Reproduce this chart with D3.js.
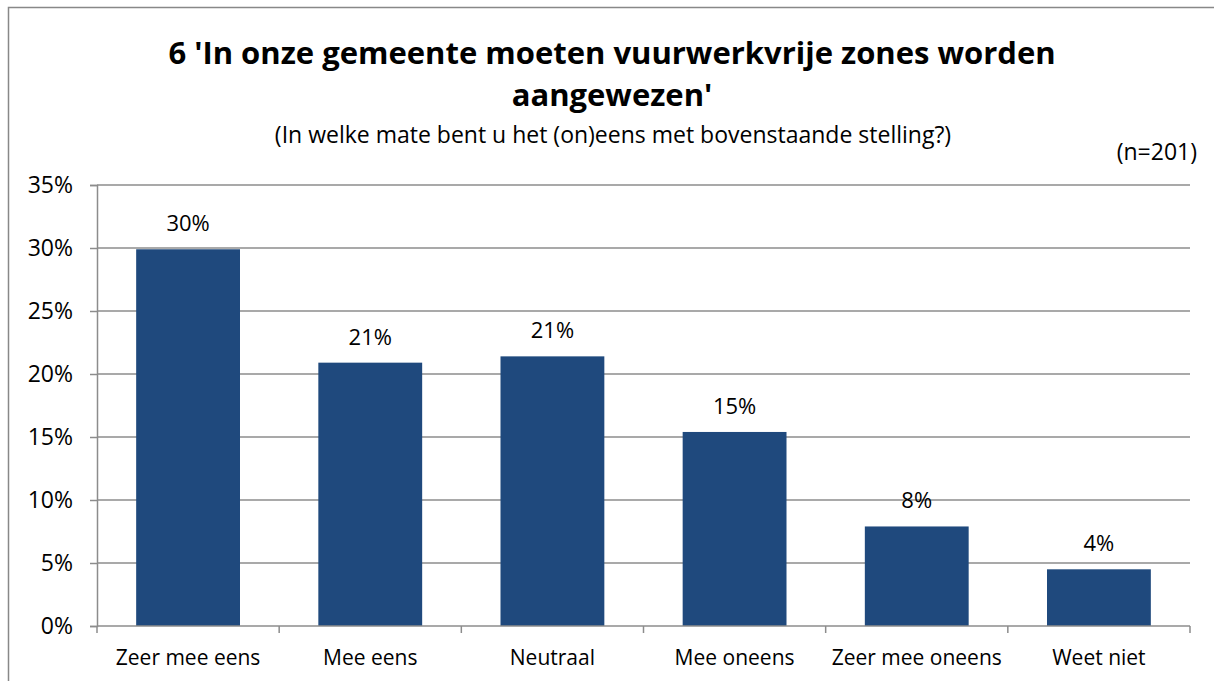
<!DOCTYPE html>
<html>
<head>
<meta charset="utf-8">
<script src="https://cdn.jsdelivr.net/npm/d3@7"></script>
<style>
body{margin:0;background:#fff}
svg text{font-family:"Open Sans",Lato,sans-serif;fill:#000}
</style>
</head>
<body>
<div id="chart"></div>
<script>
var width = 1214
var height = 681
var categories = ["Zeer mee eens","Mee eens","Neutraal","Mee oneens","Zeer mee oneens","Weet niet"]
var values = [29.9,20.9,21.4,15.4,7.9,4.5]
var valueLabels = ["30%","21%","21%","15%","8%","4%"]
var yTicks = [0,5,10,15,20,25,30,35]
var titleLines = ["6 'In onze gemeente moeten vuurwerkvrije zones worden","aangewezen'"]
var subtitle = "(In welke mate bent u het (on)eens met bovenstaande stelling?)"
var nLabel = "(n=201)"

var barColor = "#1F497D"
var gridColor = "#8c8c8c"
var margin = {left:97, right:24, top:185, bottom:55}

var svg = d3.select("#chart").append("svg")
	.attr("width",width)
	.attr("height",height)

// outer frame
svg.append("rect")
	.attr("x",8.5).attr("y",7.5)
	.attr("width",width).attr("height",height)
	.attr("fill","none").attr("stroke","#888").attr("stroke-width",1.5)

var x = d3.scaleBand().domain(categories)
	.range([margin.left, width-margin.right])
	.paddingInner(0.43).paddingOuter(0.215)
var xb = d3.scaleBand().domain(categories).range([margin.left, width-margin.right])
var y = d3.scaleLinear().domain([0,35]).range([height-margin.bottom, margin.top])

// gridlines
svg.append("g").selectAll("line")
	.data(yTicks.slice(1))
	.enter().append("line")
	.attr("x1",margin.left).attr("x2",width-margin.right)
	.attr("y1",function(d){return y(d)}).attr("y2",function(d){return y(d)})
	.attr("stroke",gridColor).attr("stroke-width",1.5)

// bars
svg.append("g").selectAll("rect")
	.data(values)
	.enter().append("rect")
	.attr("x",function(d,i){return x(categories[i])})
	.attr("width",x.bandwidth())
	.attr("y",function(d){return y(d)})
	.attr("height",function(d){return y(0)-y(d)})
	.attr("fill",barColor)

// value labels
svg.append("g").selectAll("text")
	.data(values)
	.enter().append("text")
	.attr("x",function(d,i){return x(categories[i])+x.bandwidth()/2})
	.attr("y",function(d){return y(d)-18})
	.attr("text-anchor","middle")
	.style("font-size","22px")
	.text(function(d,i){return valueLabels[i]})

// y axis
var yAxis = d3.axisLeft(y).tickValues(yTicks).tickSize(7).tickPadding(17)
	.tickFormat(function(d){return d+"%"})
var gy = svg.append("g")
	.attr("transform","translate("+margin.left+",0)")
	.call(yAxis)
gy.select(".domain").attr("stroke",gridColor).attr("stroke-width",1.5)
gy.selectAll(".tick line").attr("stroke",gridColor).attr("stroke-width",1.5)
gy.selectAll(".tick text").style("font-size","23px").attr("fill","#000")

// x axis
var gx = svg.append("g")
	.attr("transform","translate(0,"+y(0)+")")
gx.append("line")
	.attr("x1",margin.left).attr("x2",width-margin.right)
	.attr("stroke",gridColor).attr("stroke-width",1.5)
gx.selectAll(".xtick")
	.data(categories.concat([null]))
	.enter().append("line")
	.attr("class","xtick")
	.attr("x1",function(d,i){return margin.left+i*xb.bandwidth()})
	.attr("x2",function(d,i){return margin.left+i*xb.bandwidth()})
	.attr("y1",0).attr("y2",7)
	.attr("stroke",gridColor).attr("stroke-width",1.5)
gx.selectAll(".xlabel")
	.data(categories)
	.enter().append("text")
	.attr("class","xlabel")
	.attr("x",function(d){return xb(d)+xb.bandwidth()/2})
	.attr("y",39)
	.attr("text-anchor","middle")
	.style("font-size","21px")
	.text(function(d){return d})

// titles
svg.selectAll(".title")
	.data(titleLines)
	.enter().append("text")
	.attr("class","title")
	.attr("x",612)
	.attr("y",function(d,i){return 64+i*42})
	.attr("text-anchor","middle")
	.style("font-size","31px").style("font-weight","bold")
	.text(function(d){return d})
svg.append("text")
	.attr("x",613).attr("y",143)
	.attr("text-anchor","middle")
	.style("font-size","23px")
	.text(subtitle)
svg.append("text")
	.attr("x",1197).attr("y",160)
	.attr("text-anchor","end")
	.style("font-size","23px")
	.text(nLabel)
</script>
</body>
</html>
